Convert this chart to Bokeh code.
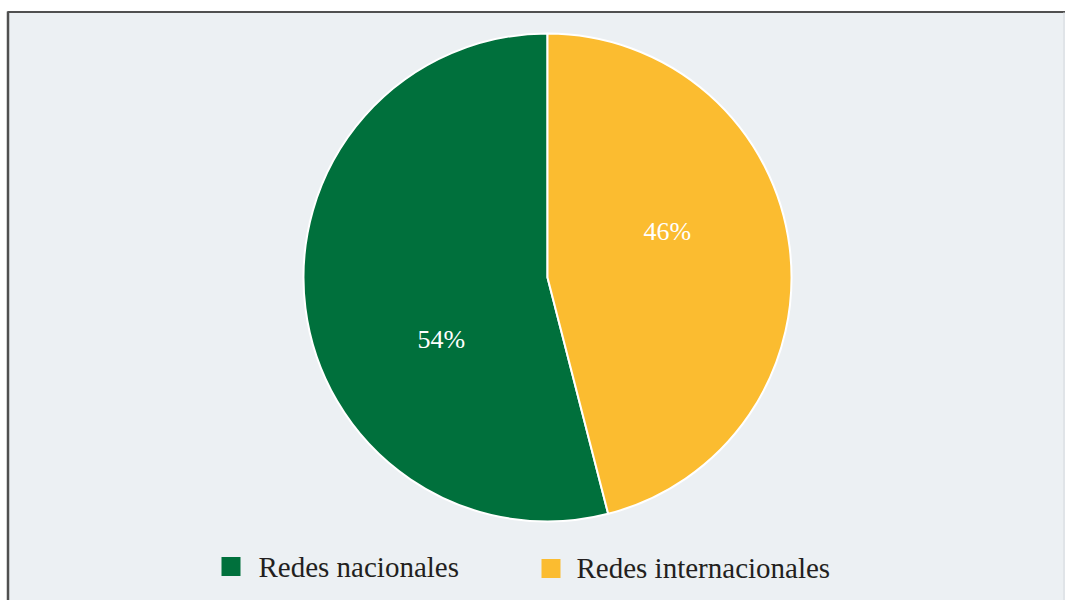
import math
from bokeh.plotting import figure
from bokeh.models import Range1d
from bokeh.core.properties import value
from bokeh.embed import file_html
from bokeh.resources import INLINE

# ---- data ----
categories = ["Redes nacionales", "Redes internacionales"]
shares = [54, 46]
colors = ["#00703C", "#FBBC30"]
pct_labels = ["54%", "46%"]

# ---- layout (pixel units, y measured from top) ----
W, H = 1065, 600
BG = "#ECF0F3"
cx, cy, R = 547, 277, 244
label_pos = [(417, 339), (643, 231)]          # left, middle
legend_sq = [(221, 566), (541, 568)]           # left, center y
legend_txt = [(258, 566), (576, 567)]          # left, middle


def Y(y):
    return H - y


p = figure(width=W, height=H, output_backend="svg", toolbar_location=None,
           x_range=Range1d(0, W), y_range=Range1d(0, H), min_border=0)
p.axis.visible = False
p.grid.visible = False
p.outline_line_color = None
p.background_fill_color = "white"
p.border_fill_color = "white"

# panel
p.quad(left=[7], right=[W], top=[Y(11)], bottom=[Y(H)], fill_color=BG, line_color=None)
p.segment(x0=[7], y0=[Y(11.5)], x1=[W], y1=[Y(11.5)], line_color="#505050", line_width=2)
p.segment(x0=[7.5], y0=[Y(11)], x1=[7.5], y1=[0], line_color="#505050", line_width=2.5)
p.segment(x0=[W - 1.5], y0=[Y(12)], x1=[W - 1.5], y1=[0], line_color="#DDE1E4", line_width=1.5)

# pie: green counter-clockwise from top, yellow completing the circle
total = float(sum(shares))
starts, ends = [], []
a = math.pi / 2
for s in shares:
    starts.append(a)
    a = a + s / total * 2 * math.pi
    ends.append(a)

p.wedge(x=[cx] * len(shares), y=[Y(cy)] * len(shares), radius=R,
        start_angle=starts, end_angle=ends, direction="anticlock",
        fill_color=colors, line_color="white", line_width=2)

# percentage labels
p.text(x=[lp[0] for lp in label_pos], y=[Y(lp[1]) for lp in label_pos], text=pct_labels,
       text_color="white", text_font=value("Liberation Serif"), text_font_size="26px",
       text_align="left", text_baseline="middle")

# legend
sq = 19
p.quad(left=[q[0] for q in legend_sq], right=[q[0] + sq for q in legend_sq],
       top=[Y(q[1] - sq / 2) for q in legend_sq], bottom=[Y(q[1] + sq / 2) for q in legend_sq],
       fill_color=colors, line_color=None)
p.text(x=[t[0] for t in legend_txt], y=[Y(t[1]) for t in legend_txt], text=categories,
       text_color="#231F20", text_font=value("Liberation Serif"), text_font_size="29px",
       text_align="left", text_baseline="middle")

open("out.html", "w").write(file_html(p, INLINE))
